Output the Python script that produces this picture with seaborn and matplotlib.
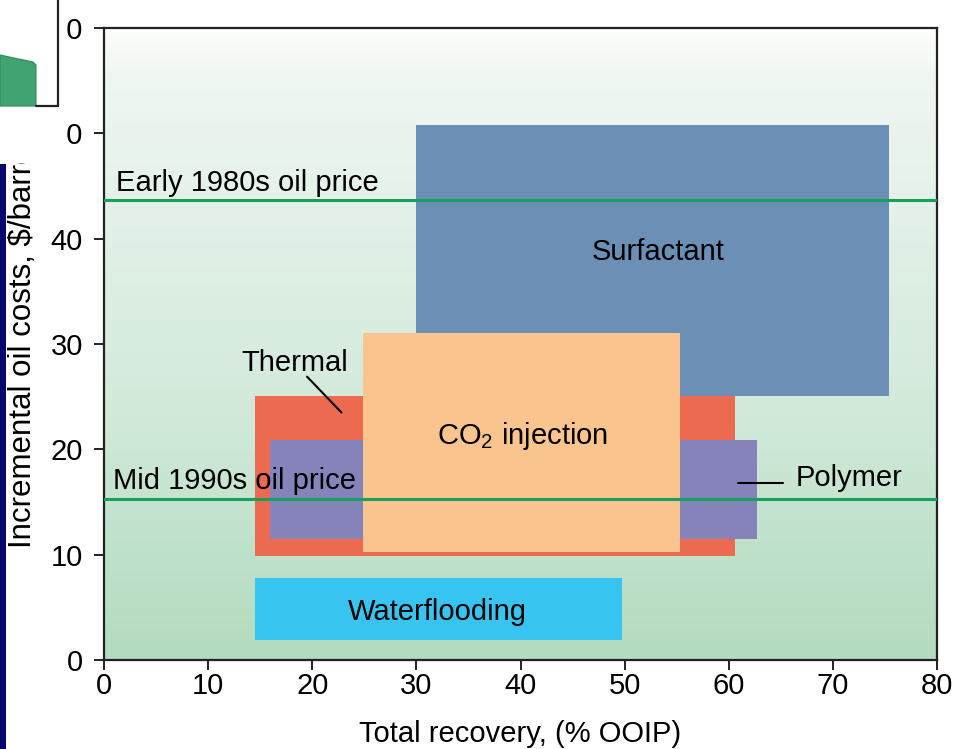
import numpy as np
import matplotlib
matplotlib.use("Agg")
import matplotlib.pyplot as plt
from matplotlib.colors import LinearSegmentedColormap
from matplotlib.patches import Rectangle, Polygon
import seaborn as sns

# Recovery-method windows: total recovery range (% OOIP) and incremental cost range ($/bbl)
methods = ["Surfactant", "Thermal", "Polymer", "CO2 injection", "Waterflooding"]
recovery_low = [30.0, 14.5, 15.9, 24.9, 14.5]
recovery_high = [75.4, 60.6, 62.7, 55.3, 49.7]
cost_low = [25.1, 9.9, 11.5, 10.3, 1.9]
cost_high = [50.8, 25.1, 20.9, 31.0, 7.8]
method_colors = ["#6b8fb5", "#ec6a4f", "#8683bb", "#f9c48e", "#37c4f0"]

# Reference oil prices
price_labels = ["Early 1980s oil price", "Mid 1990s oil price"]
price_values = [43.7, 15.3]

x_ticks = [0, 10, 20, 30, 40, 50, 60, 70, 80]
y_ticks = [0, 10, 20, 30, 40, 50, 60]

sns.set_theme(style="ticks")
plt.rcParams["font.family"] = ["Liberation Sans", "DejaVu Sans"]
plt.rcParams["mathtext.fontset"] = "custom"
plt.rcParams["mathtext.rm"] = "Liberation Sans"
plt.rcParams["mathtext.default"] = "regular"
plt.rcParams["text.color"] = "black"
plt.rcParams["axes.labelcolor"] = "black"

W, H = 955, 749
fig = plt.figure(figsize=(W / 100, H / 100), dpi=100)
fig.patch.set_facecolor("white")
ax = fig.add_axes([104 / W, 1 - 660 / H, 833 / W, 632 / H])

# Soft white-to-green vertical gradient behind the plot
grad_cmap = LinearSegmentedColormap.from_list(
    "bg",
    [(0.0, "#fdfefd"), (0.07, "#f0f7f2"), (0.13, "#ecf5ef"),
     (0.59, "#d3eadb"), (0.86, "#bce0c8"), (1.0, "#b3dbbf")],
)
grad = np.linspace(0, 1, 256).reshape(-1, 1)
ax.imshow(grad, cmap=grad_cmap, extent=[0, 80, 0, 60], origin="upper",
          aspect="auto", interpolation="bilinear", zorder=0)

# Method windows as rectangles
for name, x0, x1, y0, y1, c in zip(methods, recovery_low, recovery_high,
                                   cost_low, cost_high, method_colors):
    ax.bar(x0, y1 - y0, width=x1 - x0, bottom=y0, align="edge",
           color=c, edgecolor="none", zorder=2)

# Oil price lines
for p in price_values:
    sns.lineplot(x=[0, 80], y=[p, p], color="#16a05c", linewidth=2.2,
                 ax=ax, zorder=3)

fs = 21
ax.text(1.15, 44.5, price_labels[0], fontsize=fs,
        ha="left", va="baseline", zorder=4)
ax.text(0.85, 16.2, price_labels[1], fontsize=fs,
        ha="left", va="baseline", zorder=4)

ax.text(53.25, 38.0, "Surfactant", fontsize=fs, ha="center", va="baseline", zorder=4)
ax.text(40.15, 20.5, "CO$_2$ injection", fontsize=fs, ha="center", va="baseline", zorder=4)
ax.text(32.0, 3.8, "Waterflooding", fontsize=fs, ha="center", va="baseline", zorder=4)
ax.text(18.35, 27.4, "Thermal", fontsize=fs, ha="center", va="baseline", zorder=4)
ax.plot([19.5, 22.8], [26.9, 23.5], color="black", lw=1.5, zorder=4)
ax.text(66.4, 16.5, "Polymer", fontsize=fs, ha="left", va="baseline", zorder=4)
ax.plot([60.9, 65.2], [16.8, 16.8], color="black", lw=1.5, zorder=4)

ax.set_xlim(0, 80)
ax.set_ylim(0, 60)
ax.set_xticks(x_ticks)
ax.set_yticks(y_ticks)
ax.set_xticklabels([str(v) for v in x_ticks])
ax.set_yticklabels([str(v) for v in y_ticks])
ax.tick_params(axis="both", direction="out", length=7.2, width=1.4,
               color="#222222", labelsize=fs, labelcolor="black")
ax.tick_params(axis="y", pad=8)
ax.tick_params(axis="x", pad=1.5)
for s in ax.spines.values():
    s.set_visible(True)
    s.set_color("#222222")
    s.set_linewidth(1.6)

ax.set_xlabel("Total recovery, (% OOIP)", fontsize=fs, labelpad=14)
ax.set_ylabel("Incremental oil costs, $/barrel", fontsize=22.5)
ax.yaxis.set_label_coords((38 - 104) / 833, 0.5)

# Slide elements at the left edge: navy band and the corner of a neighbouring panel
fig.add_artist(Rectangle((0, 0), 6 / W, (H - 164) / H, transform=fig.transFigure,
                         facecolor="#08086a", edgecolor="none", zorder=20))
inset = fig.add_axes([0, 1 - 163 / H, 66 / W, 163 / H])
inset.set_zorder(10)
inset.set_facecolor("white")
inset.set_xlim(0, 66)
inset.set_ylim(163, 0)
inset.axis("off")
inset.add_patch(Rectangle((0, 0), 66, 163, facecolor="white", edgecolor="none"))
inset.add_patch(Polygon([(0, 55), (33, 62), (36, 65), (36, 106), (0, 106)],
                        closed=True, facecolor="#41a371", edgecolor="#2f8a5a", lw=0.8))
inset.plot([58, 58], [0, 106], color="#222222", lw=1.6)
inset.plot([36, 58], [106, 106], color="#222222", lw=1.6)

fig.savefig("out.png", dpi=100)
